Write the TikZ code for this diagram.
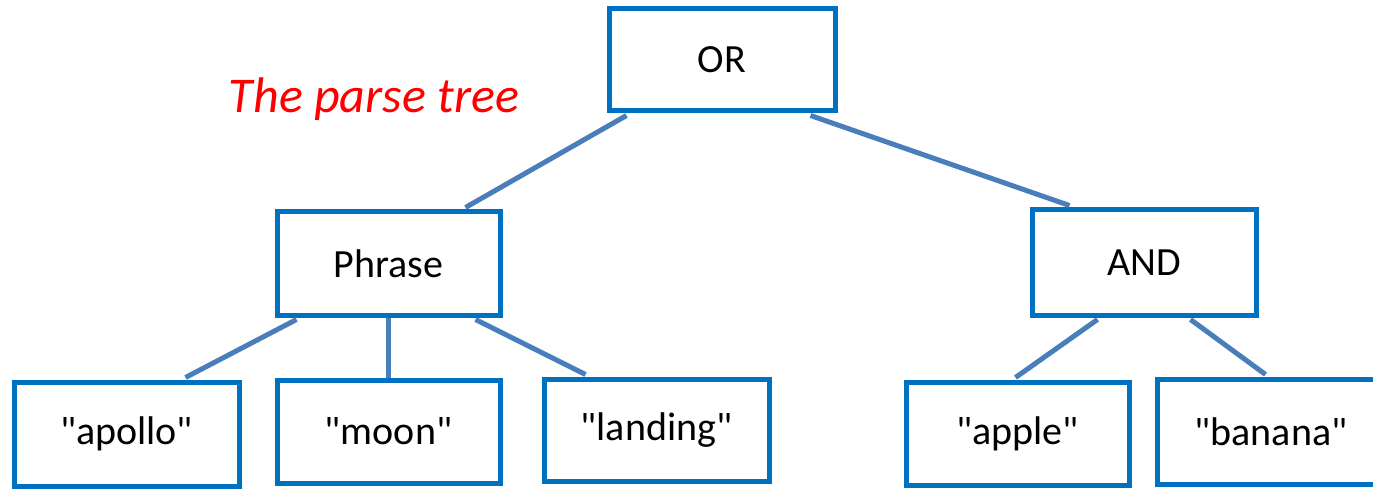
\documentclass[tikz,border=0pt]{standalone}
\usepackage{fontspec}
\setmainfont{Carlito}[Ligatures=TeXOff]
\definecolor{boxblue}{HTML}{0070C0}
\definecolor{lineblue}{HTML}{4A7EBB}
\definecolor{titlered}{HTML}{FF0000}
\begin{document}
\begin{tikzpicture}[x=1pt,y=-1pt,
  tbox/.style={draw=boxblue,line width=5pt,rectangle,inner sep=0pt,
    font=\fontsize{40}{46}\selectfont,text=black},
  edge/.style={draw=lineblue,line width=5pt}]
\useasboundingbox (0,0) rectangle (1373,489);
\clip (0,0) rectangle (1373,489);
\node[tbox,minimum width=226pt,minimum height=102pt] (OR) at (722,60) {OR};
\node[tbox,minimum width=223pt,minimum height=103pt] (PH) at (388.5,263.5) {Phrase};
\node[tbox,minimum width=224pt,minimum height=105pt] (AND) at (1144,262.5) {AND};
\node[tbox,minimum width=225pt,minimum height=104pt] (AP) at (126.5,434) {"apollo"};
\node[tbox,minimum width=223pt,minimum height=103pt] (MO) at (388.5,431.5) {"moon"};
\node[tbox,minimum width=225pt,minimum height=102pt] (LA) at (656.5,430) {"landing"};
\node[tbox,minimum width=223pt,minimum height=103pt] (APL) at (1017.5,433.5) {"apple"};
\node[tbox,minimum width=228pt,minimum height=105pt] (BA) at (1271,431.5) {"banana"};
\node[text=titlered,font=\fontsize{50}{58}\selectfont\itshape,inner sep=0pt] (T) at (374,99) {The parse tree};
\draw[edge] ([xshift=20pt,yshift=-2pt]OR.south west) -- ([xshift=191pt,yshift=2pt]PH.north west);
\draw[edge] ([xshift=204pt,yshift=-2pt]OR.south west) -- ([xshift=40pt,yshift=2pt]AND.north west);
\draw[edge] ([xshift=22pt,yshift=-2pt]PH.south west) -- ([xshift=174pt,yshift=2pt]AP.north west);
\draw[edge] (PH.south) -- (MO.north);
\draw[edge] ([xshift=201pt,yshift=-2pt]PH.south west) -- ([xshift=44pt,yshift=2pt]LA.north west);
\draw[edge] ([xshift=68pt,yshift=-2pt]AND.south west) -- ([xshift=112pt,yshift=2pt]APL.north west);
\draw[edge] ([xshift=161pt,yshift=-2pt]AND.south west) -- ([xshift=111pt,yshift=2pt]BA.north west);
\end{tikzpicture}
\end{document}
